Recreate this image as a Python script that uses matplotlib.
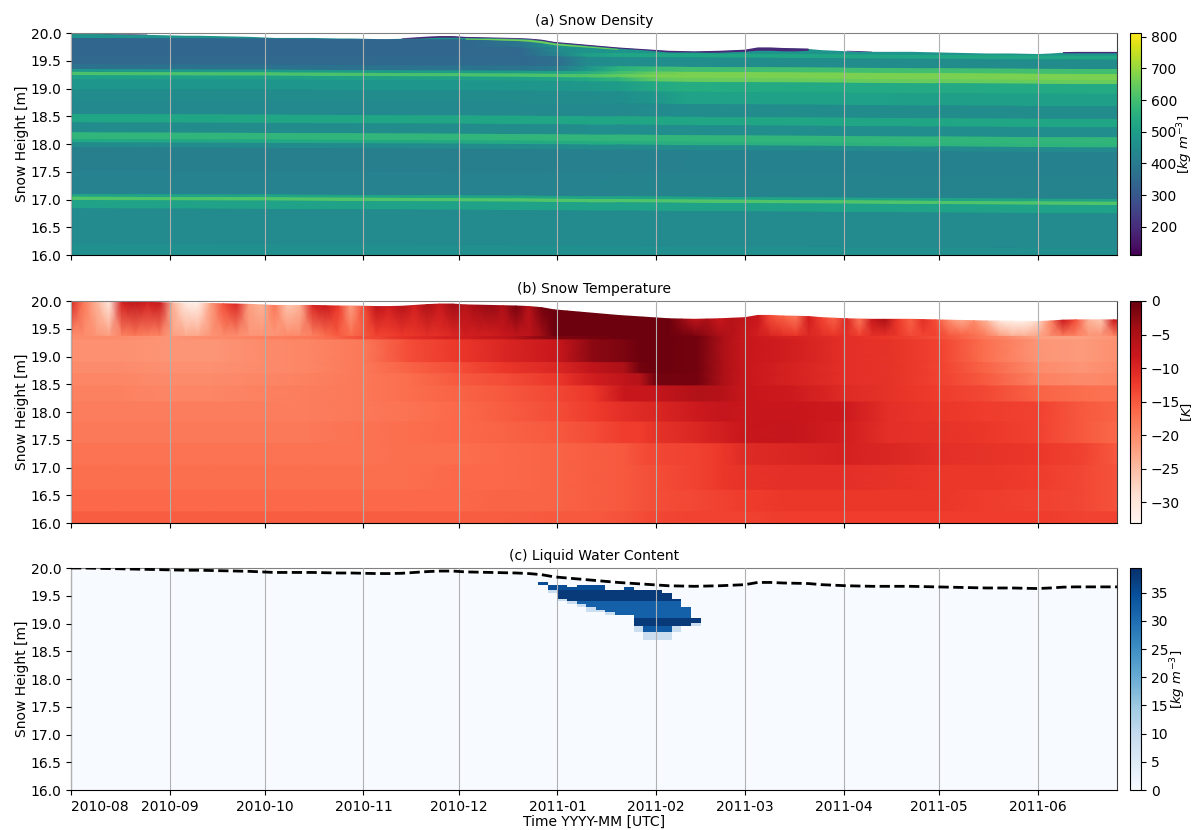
import numpy as np
import matplotlib
matplotlib.use('Agg')
import matplotlib.pyplot as plt
import matplotlib.dates as mdates
from matplotlib.colors import Normalize

# density: layers (height at the start of the record) against time
dens_dates = ['2010-08-01', '2010-10-01', '2010-12-01', '2010-12-20', '2011-01-01', '2011-01-10', '2011-01-20',
              '2011-02-01', '2011-02-10', '2011-03-01', '2011-04-01', '2011-05-01', '2011-06-01', '2011-06-26']
dens_sink = [0, .01, .025, .03, .035, .04, .04, .045, .05, .055, .065, .075, .085, .09]
dens_edges = [20.3, 19.90, 19.76, 19.67, 19.60, 19.43, 19.34, 19.29, 19.23, 19.16, 18.98, 18.76, 18.53, 18.38,
              18.20, 18.08, 18.02, 17.93, 17.51, 17.09, 17.04, 16.98, 16.83, 16.2, 15.8]
dens_table = [
    [475, 475, 475, 475, 475, 475, 475, 475, 475, 475, 475, 475, 475, 475],
    [340, 340, 345, 380, 475, 475, 475, 475, 475, 475, 475, 475, 475, 475],
    [340, 340, 345, 345, 445, 475, 475, 475, 475, 475, 475, 475, 475, 475],
    [340, 340, 345, 345, 425, 505, 525, 525, 525, 525, 525, 525, 525, 525],
    [345, 345, 350, 350, 365, 445, 455, 455, 455, 450, 450, 450, 450, 450],
    [375, 375, 380, 380, 405, 475, 560, 590, 600, 600, 600, 600, 600, 600],
    [490, 490, 495, 495, 520, 550, 600, 650, 670, 670, 670, 670, 670, 670],
    [610, 610, 610, 610, 615, 620, 640, 670, 670, 670, 670, 670, 670, 670],
    [510, 510, 510, 510, 520, 535, 565, 640, 650, 650, 650, 650, 650, 650],
    [480, 480, 480, 480, 480, 485, 495, 535, 545, 540, 535, 535, 535, 535],
    [450, 450, 450, 450, 450, 450, 455, 480, 515, 515, 510, 505, 505, 505],
    [440, 440, 442, 442, 442, 442, 442, 445, 448, 450, 450, 450, 450, 450],
    [525, 525, 525, 525, 525, 525, 525, 525, 525, 525, 525, 525, 525, 525],
    [450, 450, 450, 450, 450, 452, 452, 452, 452, 455, 455, 455, 455, 455],
    [570, 570, 570, 570, 570, 570, 570, 570, 570, 570, 570, 570, 570, 570],
    [530, 530, 535, 535, 540, 540, 545, 550, 550, 555, 560, 565, 565, 565],
    [450, 450, 450, 450, 450, 450, 450, 450, 448, 448, 445, 445, 445, 445],
    [412, 412, 412, 412, 414, 414, 414, 414, 415, 415, 415, 415, 415, 415],
    [418, 418, 420, 420, 422, 422, 424, 424, 425, 425, 425, 425, 425, 425],
    [520, 520, 520, 520, 520, 520, 520, 520, 520, 520, 520, 520, 520, 520],
    [620, 620, 620, 620, 620, 620, 620, 620, 620, 620, 620, 620, 620, 620],
    [515, 515, 515, 515, 515, 515, 515, 515, 515, 515, 515, 515, 515, 515],
    [445, 445, 445, 445, 445, 445, 445, 445, 445, 445, 445, 445, 445, 445],
    [458, 458, 458, 458, 458, 458, 458, 458, 458, 458, 458, 458, 458, 458],
]

# surface, every 4 days from 2010-08-01
surface_height = [
    20.00, 20.00, 19.995, 19.99, 19.985, 19.98, 19.975, 19.97, 19.965, 19.96,
    19.96, 19.955, 19.95, 19.945, 19.94, 19.93, 19.92, 19.92, 19.92, 19.92,
    19.915, 19.91, 19.91, 19.905, 19.90, 19.90, 19.905, 19.92, 19.935, 19.945,
    19.945, 19.93, 19.925, 19.92, 19.915, 19.91, 19.90, 19.88, 19.84, 19.82,
    19.80, 19.78, 19.76, 19.74, 19.725, 19.71, 19.695, 19.68, 19.675, 19.67,
    19.675, 19.68, 19.69, 19.70, 19.74, 19.74, 19.73, 19.725, 19.72, 19.70,
    19.69, 19.68, 19.675, 19.67, 19.67, 19.67, 19.67, 19.665, 19.66, 19.655,
    19.65, 19.645, 19.64, 19.64, 19.64, 19.635, 19.63, 19.64, 19.655, 19.66,
    19.66, 19.66, 19.66, 19.66]
crust_depth = [
    .012, .012, .012, .012, .01, .01, .008, 0, 0, 0,
    0, 0, 0, 0, 0, 0, 0, 0, 0, 0,
    0, 0, 0, 0, 0, 0, .01, .025, .03, .03,
    .03, .02, .02, .015, .015, .015, .015, .02, .02, .02,
    .02, .02, .02, .02, .02, .02, .025, .03, .025, .02,
    .03, .035, .035, .04, .06, .06, .06, .055, .04, 0,
    0, .01, .015, .005, 0, 0, 0, 0, 0, 0,
    0, 0, 0, 0, 0, 0, 0, 0, .02, .025,
    .025, .025, .025, .025]
bright_depth = [
    0, 0, 0, 0, 0, 0, 0, 0, 0, 0,
    0, 0, 0, 0, 0, 0, 0, 0, 0, 0,
    0, 0, 0, 0, 0, 0, 0, 0, 0, 0,
    0, .02, .02, .025, .03, .03, .035, .035, .03, .03,
    .025, .02, .02, .015, 0, 0, 0, 0, 0, 0,
    0, 0, 0, 0, 0, 0, 0, 0, 0, 0,
    0, 0, 0, 0, 0, 0, 0, 0, 0, 0,
    0, 0, 0, 0, 0, 0, 0, 0, 0, 0,
    0, 0, 0, 0]
crust_density = 190
bright_density = 660

# temperature near the surface, same 4 day steps
skin_temp = [
    -10, -18, -24, -31, -9, -7, -9, -8, -24, -31,
    -32, -22, -14, -10, -22, -24, -18, -26, -24, -10,
    -8, -12, -22, -14, -7, -9, -6, -9, -5, -8,
    -4, -6, -4, -3, -5, -1, -6, -1, -.5, -.5,
    -.5, -.5, -.5, -.5, -.5, -.5, -.5, -.5, -3, -7,
    -5, -8, -6, -7, -8, -14, -16, -18, -9, -13,
    -16, -10, -18, -8, -5, -12, -16, -11, -14, -20,
    -23, -20, -24, -30, -32, -32, -28, -20, -8, -14,
    -24, -26, -8, -9]
base_temp = [
    -20, -20, -21, -22, -19, -18, -19, -19, -22, -23,
    -23, -21, -20, -20, -21, -21, -21, -20, -20, -19,
    -17, -15, -17, -15, -13, -13, -12, -12, -11, -11,
    -10, -9, -9, -9, -8, -7, -7, -4, -.5, -.5,
    -.5, -.5, -.5, -.5, -.5, -.5, -.5, -.5, -1, -1.5,
    -3, -5, -6, -8, -9, -10, -11, -12, -10, -11,
    -12, -11, -13, -11, -11, -12, -14, -13, -13, -15,
    -16, -17, -19, -22, -24, -24, -23, -20, -18, -19,
    -21, -21, -19, -19]

# temperature below the surface zone
temp_dates = ['2010-08-01', '2010-08-15', '2010-09-01', '2010-09-15', '2010-10-01', '2010-10-15', '2010-11-01',
              '2010-11-15', '2010-12-01', '2010-12-15', '2011-01-01', '2011-01-12', '2011-01-22', '2011-01-27',
              '2011-02-01', '2011-02-14', '2011-02-22', '2011-03-01', '2011-03-15', '2011-04-01', '2011-04-15',
              '2011-05-01', '2011-05-15', '2011-06-01', '2011-06-15', '2011-06-26']
temp_edges = [19.38, 19.30, 18.89, 18.69, 18.47, 18.18, 17.82, 17.43, 17.04, 16.59, 16.20, 15.8]
temp_table = [
    [-20, -20, -21, -20, -19, -18, -14, -11, -9, -7, -1.5, -1, -.5, -.5, -.5, -.8, -5, -8, -9.5, -11, -12, -14, -18, -22, -22, -21],
    [-20.5, -20.5, -21, -21, -20, -19.5, -18, -14, -12, -10, -8, -2.5, -1.5, -.5, -.5, -.8, -5, -8, -9, -11, -11.5, -13, -17, -21, -21.5, -20.5],
    [-20, -20, -20.5, -20.5, -20, -19.5, -18, -16, -14, -12, -10, -7, -5, -.8, -.5, -.8, -5, -8, -9.5, -11, -11.5, -13, -16, -20, -21, -20],
    [-19.5, -19.5, -20, -20, -19.5, -19, -18, -17, -15, -14, -12, -9, -7, -6, -.8, -1, -5, -8, -9.5, -11, -11.5, -13, -15, -19, -20, -19.5],
    [-19, -19, -19.5, -19.5, -19, -18.5, -18, -17, -16, -15, -13.5, -12, -8, -8, -7.5, -5.5, -6, -8, -8.5, -10.5, -11.5, -12.5, -13.5, -16, -17, -17.5],
    [-18.5, -18.5, -18.5, -18.5, -18.5, -18.5, -18, -17.5, -16.5, -15.5, -14, -12.5, -11, -10.5, -10, -8.5, -7.5, -8, -8, -8.5, -11, -12, -12.5, -13, -15, -16],
    [-18, -18, -18, -18, -18, -18, -17.5, -17, -16.5, -16, -15, -14, -12.5, -12.5, -11.5, -10, -9, -8, -7.5, -9, -11, -11.5, -12, -13, -15, -16.5],
    [-17.5, -17.5, -17.5, -17.5, -17.5, -17.5, -17.5, -17, -17, -16.5, -16, -15.5, -15, -14, -13.5, -13, -12, -10.5, -10, -9.5, -10, -11, -11.5, -12, -13, -15],
    [-17, -17, -17, -17, -17, -17, -17, -17, -16.5, -16.5, -16, -15.5, -15, -14.5, -14, -13, -12, -11.5, -11, -11, -11.5, -12, -12, -12.5, -13.5, -14.5],
    [-16.5, -16.5, -16.5, -16.5, -16.5, -16.5, -16.5, -16.5, -16.5, -16, -16, -15.5, -15, -14.5, -14, -13.5, -13, -12.5, -12, -12, -12, -12, -12.5, -13, -13.5, -14.5],
    [-15.5, -15.5, -15.5, -15.5, -15.5, -15.5, -15.5, -15.5, -15.5, -15.5, -15, -15, -14.5, -14, -13.5, -13, -13, -13, -12.5, -12.5, -12.5, -12.5, -12.5, -12.5, -13, -13],
]

# liquid water: columns 3 days wide, from 2010-12-26 on
lwc_first_day = 147
lwc_top = [19.75, 19.72, 19.69, 19.66, 19.68, 19.69, 19.69, 19.60, 19.60, 19.65, 19.60, 19.60, 19.60, 19.56, 19.45, 19.30, 19.12]
lwc_bottom = [19.70, 19.58, 19.45, 19.38, 19.33, 19.28, 19.24, 19.18, 19.17, 19.15, 18.97, 18.87, 18.87, 18.87, 18.93, 18.97, 18.98]
lwc_pale_bottom = [19.70, 19.55, 19.40, 19.35, 19.28, 19.20, 19.20, 19.15, 19.15, 19.15, 18.85, 18.69, 18.69, 18.69, 18.87, 18.93, 18.95]
lwc_levels = [19.8, 19.6, 19.4, 19.1, 18.97, 18.0]
lwc_level_values = [35, 38, 32, 38, 33]
lwc_pale_value = 9

months = ['2010-08', '2010-09', '2010-10', '2010-11', '2010-12', '2011-01',
          '2011-02', '2011-03', '2011-04', '2011-05', '2011-06']
titles = ['(a) Snow Density', '(b) Snow Temperature', '(c) Liquid Water Content']
cbar_labels = [r'$[kg\ m^{-3}]$', r'$[K]$', r'$[kg\ m^{-3}]$']
cbar_label_x = [5.05, 5.15, 4.4]
cbar_ticks = [[200, 300, 400, 500, 600, 700, 800], [0, -5, -10, -15, -20, -25, -30], [0, 5, 10, 15, 20, 25, 30, 35]]
start = mdates.datestr2num('2010-08-01')
end = mdates.datestr2num('2011-06-26')
W, H = 1196, 830


def layered_mesh(ax, x, edges, table, cmap, norm, sink=None):
    # gouraud across time only: each layer gets a top and a bottom row of the same value
    ys = np.repeat(edges, 2)[1:-1]
    Y = np.tile(ys[:, None], (1, len(x)))
    if sink is not None:
        Y = Y - np.array(sink)[None, :]
    X = np.tile(x, (len(ys), 1))
    C = np.repeat(np.array(table, dtype=float), 2, axis=0)
    return ax.pcolormesh(X, Y, C, shading='gouraud', cmap=cmap, norm=norm)


fig = plt.figure(figsize=(W / 100, H / 100), dpi=100)
tops = [33, 301, 568]
axes = []
cax = []
for top in tops:
    axes.append(fig.add_axes([71 / W, 1 - (top + 222) / H, 1046 / W, 222 / H]))
    cax.append(fig.add_axes([1130 / W, 1 - (top + 222) / H, 11 / W, 222 / H]))

surf = np.array(surface_height)
surf_x = start + np.arange(len(surf)) * 4

# (a)
dens_norm = Normalize(111, 812)
m0 = layered_mesh(axes[0], mdates.datestr2num(dens_dates), dens_edges, dens_table, 'viridis', dens_norm, dens_sink)
viridis = plt.get_cmap('viridis')
axes[0].fill_between(surf_x, surf, 20.3, color='white', lw=0, zorder=1.5)
crust = np.array(crust_depth)
axes[0].fill_between(surf_x, surf - crust, surf, where=crust > 0, color=viridis(dens_norm(crust_density)), lw=0, zorder=1.6)
bright = np.array(bright_depth)
axes[0].fill_between(surf_x, surf - crust - bright, surf - crust, where=bright > 0,
                     color=viridis(dens_norm(bright_density)), lw=0, zorder=1.6)

# (b)
temp_norm = Normalize(-33.1, 0)
temp_x = mdates.datestr2num(temp_dates)
m1 = layered_mesh(axes[1], temp_x, temp_edges, temp_table, 'Reds', temp_norm)
streak_y = np.vstack([surf, np.full(len(surf), temp_edges[0])])
streak_x = np.vstack([surf_x, surf_x])
axes[1].pcolormesh(streak_x, streak_y, np.vstack([skin_temp, base_temp]), shading='gouraud', cmap='Reds', norm=temp_norm)

# (c)
lwc_norm = Normalize(0, 39.4)
lwc_x_days = np.arange(0, 334, 3)
lwc_y = np.arange(15.8, 20.3001, 0.05)
grid = np.zeros((len(lwc_y) - 1, len(lwc_x_days) - 1))
first = lwc_first_day // 3
for i in range(len(lwc_top)):
    for j in range(grid.shape[0]):
        z = 0.5 * (lwc_y[j] + lwc_y[j + 1])
        if lwc_bottom[i] <= z <= lwc_top[i]:
            k = np.searchsorted(-np.array(lwc_levels), -z) - 1
            grid[j, first + i] = lwc_level_values[k]
        elif lwc_pale_bottom[i] <= z < lwc_bottom[i]:
            grid[j, first + i] = lwc_pale_value
m2 = axes[2].pcolormesh(start + lwc_x_days, lwc_y, grid, shading='flat', cmap='Blues', norm=lwc_norm)
axes[2].fill_between(surf_x, surf, 20.3, color='white', lw=0, zorder=1.5)
axes[2].plot(surf_x, surf, 'k--', lw=2, zorder=3)

month_ticks = mdates.datestr2num([m + '-01' for m in months])
for i, ax in enumerate(axes):
    ax.set_xlim(start, end)
    ax.set_ylim(16, 20)
    ax.set_xticks(month_ticks)
    ax.set_yticks(np.arange(16, 20.5, 0.5))
    ax.grid(axis='x', zorder=4)
    ax.set_axisbelow(False)
    ax.set_ylabel('Snow Height [m]', labelpad=1)
    ax.set_title(titles[i], fontsize=10, pad=6)
    ax.spines['top'].set_color('#808080')
    ax.spines['right'].set_color('#404040')
    if i < 2:
        ax.set_xticklabels([])
axes[2].set_xticklabels(months)
axes[2].get_xticklabels()[0].set_ha('left')
axes[2].set_xlabel('Time YYYY-MM [UTC]', labelpad=1)

for i, m in enumerate([m0, m1, m2]):
    cb = fig.colorbar(m, cax=cax[i], ticks=cbar_ticks[i])
    cb.set_label(cbar_labels[i], fontsize=9.5, va='center')
    cb.ax.yaxis.set_label_coords(cbar_label_x[i], 0.5)

fig.savefig('out.png', dpi=100)
